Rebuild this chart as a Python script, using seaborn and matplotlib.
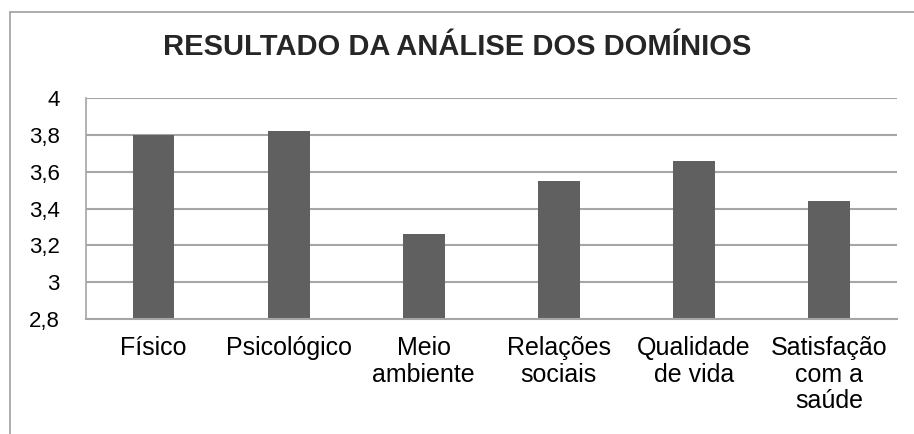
import matplotlib
matplotlib.use("Agg")
import matplotlib.pyplot as plt
import seaborn as sns
import pandas as pd
from matplotlib.lines import Line2D
from matplotlib.ticker import FuncFormatter

# dados do gráfico
dominios = ["Físico", "Psicológico", "Meio\nambiente", "Relações\nsociais",
            "Qualidade\nde vida", "Satisfação\ncom a\nsaúde"]
medias = [3.80, 3.82, 3.26, 3.55, 3.66, 3.44]
y_ticks = [2.8, 3.0, 3.2, 3.4, 3.6, 3.8, 4.0]

df = pd.DataFrame({"dominio": dominios, "media": medias})

sns.set_style("white")
plt.rcParams["font.family"] = ["Liberation Sans", "DejaVu Sans"]

fig = plt.figure(figsize=(9.14, 4.34), dpi=100)
ax = fig.add_axes([0.094, 0.265, 0.887, 0.509])

sns.barplot(data=df, x="dominio", y="media", color="#606060", width=0.31,
            saturation=1, linewidth=0, ax=ax)

ax.set_ylim(2.8, 4.0)
ax.set_yticks(y_ticks)
ax.yaxis.set_major_formatter(FuncFormatter(lambda v, p: f"{v:g}".replace(".", ",")))
ax.grid(axis="y", color="#a6a6a6", linewidth=1.5)
ax.set_axisbelow(True)
for s in ["top", "right"]:
    ax.spines[s].set_visible(False)
ax.spines["left"].set_color("#a6a6a6")
ax.spines["bottom"].set_color("#a6a6a6")
ax.spines["left"].set_linewidth(1.2)
ax.spines["bottom"].set_linewidth(1.5)
ax.tick_params(axis="both", length=0, colors="black")
ax.tick_params(axis="y", pad=19, labelsize=16)
ax.tick_params(axis="x", pad=12, labelsize=18)
ax.set_xlabel("")
ax.set_ylabel("")
for lbl in ax.get_xticklabels():
    lbl.set_multialignment("center")
    lbl.set_linespacing(1.15)

fig.text(0.5, 0.892, "RESULTADO DA ANÁLISE DOS DOMÍNIOS", ha="center", va="center",
         fontsize=21, fontweight="bold")

# moldura do gráfico (apenas topo e esquerda visíveis)
fig.add_artist(Line2D([9.5 / 914, 1], [1 - 11.5 / 434, 1 - 11.5 / 434],
                      transform=fig.transFigure, color="#a0a0a0", linewidth=1.2))
fig.add_artist(Line2D([9.5 / 914, 9.5 / 914], [0, 1 - 11.5 / 434],
                      transform=fig.transFigure, color="#a0a0a0", linewidth=1.2))

fig.savefig("out.png", dpi=100)
